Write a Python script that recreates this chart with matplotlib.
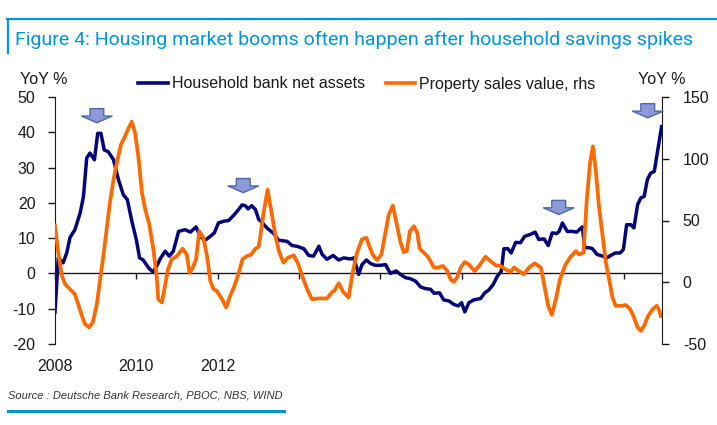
import matplotlib
matplotlib.use("Agg")
import matplotlib.pyplot as plt
from matplotlib.patches import Polygon
from matplotlib.lines import Line2D
from matplotlib import font_manager as fm

# ---------------- data ----------------
hh_dates = [2008.00, 2008.08, 2008.20, 2008.29, 2008.37, 2008.49, 2008.62, 2008.70, 2008.78, 2008.86,
            2008.97, 2009.05, 2009.13, 2009.21, 2009.31, 2009.44, 2009.56, 2009.68, 2009.78, 2009.89,
            2010.00, 2010.08, 2010.17, 2010.30, 2010.41, 2010.50, 2010.59, 2010.71, 2010.81, 2010.91,
            2011.04, 2011.20, 2011.33, 2011.47, 2011.57, 2011.69, 2011.82, 2011.92, 2012.02, 2012.15,
            2012.27, 2012.39, 2012.50, 2012.60, 2012.68, 2012.75, 2012.84, 2012.93, 2013.01, 2013.09,
            2013.21, 2013.38, 2013.50, 2013.71, 2013.83, 2013.95, 2014.12, 2014.24, 2014.36, 2014.49,
            2014.57, 2014.69, 2014.84, 2014.98, 2015.10, 2015.27, 2015.35, 2015.47, 2015.55, 2015.66,
            2015.76, 2015.88, 2016.00, 2016.13, 2016.25, 2016.39, 2016.50, 2016.62, 2016.74, 2016.87,
            2016.99, 2017.11, 2017.24, 2017.32, 2017.46, 2017.56, 2017.69, 2017.81, 2017.92, 2018.00,
            2018.08, 2018.18, 2018.30, 2018.47, 2018.57, 2018.67, 2018.78, 2018.88, 2018.98, 2019.04,
            2019.14, 2019.22, 2019.33, 2019.45, 2019.55, 2019.68, 2019.81, 2019.90, 2020.03, 2020.13,
            2020.23, 2020.34, 2020.40, 2020.48, 2020.60, 2020.73, 2020.83, 2020.97, 2021.03, 2021.14,
            2021.22, 2021.33, 2021.47, 2021.57, 2021.67, 2021.78, 2021.90, 2021.98, 2022.06, 2022.16,
            2022.24, 2022.33, 2022.41, 2022.49, 2022.57, 2022.65, 2022.74, 2022.80, 2022.87, 2022.92]
hh_values = [-11.0, 4.4, 3.0, 5.9, 10.2, 12.4, 17.2, 21.8, 32.7, 34.1,
             32.2, 39.7, 39.7, 35.0, 34.5, 32.2, 26.6, 22.3, 20.9, 14.8,
             9.6, 4.4, 3.8, 1.6, 0.4, 2.0, 4.2, 6.3, 4.9, 6.3,
             11.9, 12.4, 11.7, 13.2, 10.5, 9.4, 10.5, 11.5, 14.3, 14.8,
             15.0, 16.4, 17.9, 19.4, 19.2, 18.3, 19.2, 18.1, 15.3, 14.5,
             12.9, 11.3, 9.4, 9.1, 7.9, 7.7, 7.0, 5.1, 4.9, 7.7,
             5.4, 4.0, 5.1, 3.8, 4.4, 4.1, 4.4, -0.3, 2.5, 3.8,
             2.8, 2.3, 2.3, 2.5, 0.0, 0.7, -0.3, -1.2, -1.5, -2.2,
             -3.8, -4.3, -4.5, -5.6, -5.5, -7.5, -7.8, -8.8, -9.2, -8.3,
             -10.9, -8.3, -7.5, -7.1, -5.5, -4.7, -3.1, -0.8, 0.7, 7.0,
             7.0, 5.8, 8.8, 8.7, 10.5, 11.0, 11.7, 9.6, 9.8, 7.9,
             11.5, 11.3, 11.9, 14.3, 11.9, 11.9, 11.7, 13.2, 7.3, 7.3,
             7.0, 5.4, 4.9, 4.4, 5.1, 5.8, 5.8, 6.8, 13.8, 13.8,
             12.9, 19.5, 21.4, 21.8, 26.6, 28.4, 28.9, 33.1, 37.9, 41.6]

ps_dates = [2008.00, 2008.08, 2008.17, 2008.25, 2008.37, 2008.49, 2008.57, 2008.66, 2008.74, 2008.84,
            2008.93, 2009.03, 2009.11, 2009.19, 2009.27, 2009.35, 2009.44, 2009.52, 2009.62, 2009.72,
            2009.81, 2009.89, 2009.97, 2010.05, 2010.14, 2010.22, 2010.32, 2010.42, 2010.50, 2010.54,
            2010.63, 2010.69, 2010.78, 2010.87, 2011.00, 2011.14, 2011.24, 2011.31, 2011.39, 2011.47,
            2011.55, 2011.65, 2011.74, 2011.82, 2011.90, 2011.98, 2012.11, 2012.21, 2012.31, 2012.43,
            2012.51, 2012.61, 2012.72, 2012.83, 2012.93, 2013.01, 2013.05, 2013.13, 2013.23, 2013.34,
            2013.44, 2013.52, 2013.62, 2013.73, 2013.87, 2013.97, 2014.08, 2014.20, 2014.32, 2014.49,
            2014.69, 2014.82, 2014.87, 2014.98, 2015.09, 2015.22, 2015.33, 2015.43, 2015.55, 2015.66,
            2015.73, 2015.82, 2015.92, 2016.03, 2016.11, 2016.21, 2016.31, 2016.39, 2016.50, 2016.58,
            2016.65, 2016.73, 2016.83, 2016.91, 2016.97, 2017.07, 2017.19, 2017.32, 2017.43, 2017.54,
            2017.65, 2017.73, 2017.81, 2017.89, 2017.98, 2018.08, 2018.18, 2018.28, 2018.32, 2018.43,
            2018.59, 2018.71, 2018.84, 2018.96, 2019.08, 2019.21, 2019.29, 2019.41, 2019.53, 2019.66,
            2019.80, 2019.95, 2020.03, 2020.13, 2020.22, 2020.32, 2020.42, 2020.56, 2020.68, 2020.81,
            2020.89, 2021.00, 2021.08, 2021.16, 2021.23, 2021.30, 2021.38, 2021.47, 2021.55, 2021.63,
            2021.71, 2021.79, 2021.92, 2022.04, 2022.15, 2022.24, 2022.33, 2022.41, 2022.49, 2022.59,
            2022.70, 2022.80, 2022.85, 2022.90]
ps_values = [46.0, 24.0, 5.1, -1.6, -5.6, -9.7, -17.7, -27.0, -33.9, -36.5,
             -32.5, -17.7, 2.4, 21.2, 42.7, 64.3, 83.0, 96.5, 111.3, 118.0,
             124.8, 130.0, 120.7, 101.9, 72.3, 58.9, 46.8, 26.6, 5.1, -13.7,
             -16.4, -5.6, 10.5, 18.5, 21.2, 27.2, 22.6, 7.8, 11.8, 18.5,
             41.4, 36.0, 21.2, 1.0, -5.6, -7.0, -13.7, -20.4, -11.0, -1.6,
             6.5, 18.5, 21.2, 22.6, 27.2, 28.8, 37.3, 56.0, 75.0, 53.5,
             34.7, 24.0, 15.9, 19.9, 21.8, 15.9, 5.1, -5.6, -13.7, -13.1,
             -13.1, -7.8, -7.0, -0.8, -7.8, -12.4, 9.1, 24.0, 34.7, 36.0,
             29.3, 22.0, 18.0, 22.6, 37.3, 54.8, 62.1, 49.5, 32.0, 24.4,
             25.2, 41.4, 45.4, 40.0, 27.2, 24.0, 19.9, 11.9, 11.9, 13.2,
             9.1, 2.4, 0.3, 3.8, 11.9, 16.4, 14.5, 10.5, 9.1, 13.2,
             20.7, 17.2, 13.7, 13.2, 10.5, 8.3, 11.9, 9.1, 6.5, 11.9,
             15.3, 11.9, -1.6, -19.1, -26.4, -13.7, 2.4, 14.5, 20.5, 25.2,
             22.6, 24.0, 67.0, 96.5, 110.0, 91.0, 61.5, 37.3, 15.9, 2.4,
             -12.3, -19.1, -19.1, -18.5, -21.8, -28.5, -36.5, -39.3, -35.2, -27.2,
             -21.8, -19.1, -21.8, -27.2]

# savings-spike markers (date, tip value on left axis)
arrow_dates = [2009.03, 2012.63, 2020.39, 2022.58]
arrow_tips = [42.7, 22.9, 16.7, 44.1]

x_ticks = [2008, 2010, 2012, 2014, 2016, 2018, 2020, 2022]
x_tick_labels = ["2008", "2010", "2012", "", "", "", "", ""]
left_ticks = [-20, -10, 0, 10, 20, 30, 40, 50]
right_ticks = [-50, 0, 50, 100, 150]

title = "Figure 4: Housing market booms often happen after household savings spikes"
source = "Source : Deutsche Bank Research, PBOC, NBS, WIND"
label_hh = "Household bank net assets"
label_ps = "Property sales value, rhs"

# ---------------- style ----------------
def has_font(name):
    try:
        fm.findfont(fm.FontProperties(family=name), fallback_to_default=False)
        return True
    except Exception:
        return False

base_font = "Liberation Sans" if has_font("Liberation Sans") else "DejaVu Sans"
title_font = "Liberation Sans Narrow" if has_font("Liberation Sans Narrow") else "Roboto"
plt.rcParams["font.family"] = [base_font, "DejaVu Sans"]
plt.rcParams["axes.unicode_minus"] = False

NAVY = "#05057A"
ORANGE = "#FF6A00"
BLUE = "#0095D9"
TXT = "#1a1a1a"

W, H = 717, 425
fig = plt.figure(figsize=(W / 100, H / 100), dpi=100)

ax = fig.add_axes([55 / W, 1 - 344 / H, (662 - 55) / W, (344 - 97) / H])
ax2 = ax.twinx()

ax.plot(hh_dates, hh_values, color=NAVY, lw=2.5, solid_joinstyle="round")
ax2.plot(ps_dates, ps_values, color=ORANGE, lw=2.7, solid_joinstyle="round")

ax.set_xlim(2008.0, 2022.93)
ax.set_ylim(-20, 50)
ax2.set_ylim(-50, 150)

for a in (ax, ax2):
    a.spines["top"].set_visible(False)
    a.spines["bottom"].set_visible(False)
ax.spines["right"].set_visible(False)
ax2.spines["left"].set_visible(False)
ax.spines["left"].set_color(TXT)
ax2.spines["right"].set_color(TXT)
ax.spines["bottom"].set_visible(True)
ax.spines["bottom"].set_position(("data", 0))
ax.spines["bottom"].set_color(TXT)
ax.spines["bottom"].set_linewidth(1.0)

ax.set_xticks(x_ticks)
ax.set_xticklabels(x_tick_labels)
ax.set_yticks(left_ticks)
ax2.set_yticks(right_ticks)

ax.tick_params(axis="x", direction="out", length=4, width=1, color=TXT, pad=0, labelsize=11.5,
               labelcolor=TXT)
ax.tick_params(axis="y", direction="out", length=5, width=1, color=TXT, pad=9, labelsize=11.5,
               labelcolor=TXT)
ax2.tick_params(axis="y", direction="out", length=5, width=1, color=TXT, pad=10, labelsize=11.5,
                labelcolor=TXT)

# x labels placed below plot area (axis line sits at zero)
for lab in ax.get_xticklabels():
    lab.set_transform(ax.get_xaxis_transform())
    lab.set_y(-0.093)
    lab.set_verticalalignment("center")

# arrows (block arrows pointing down) drawn in left-axis data coords
head_w, stem_w = 0.38, 0.17
head_h, stem_h = 1.9, 2.1
for d, tip in zip(arrow_dates, arrow_tips):
    pts = [(d, tip), (d - head_w, tip + head_h), (d - stem_w, tip + head_h),
           (d - stem_w, tip + head_h + stem_h), (d + stem_w, tip + head_h + stem_h),
           (d + stem_w, tip + head_h), (d + head_w, tip + head_h)]
    ax2.add_patch(Polygon(pts, closed=True, transform=ax.transData, facecolor="#8E9AD8",
                          edgecolor="#4D68AE", lw=1.0, zorder=5, clip_on=False))

# axis titles
fig.text(20 / W, 1 - 79 / H, "YoY %", fontsize=11.5, color=TXT, va="center", ha="left")
fig.text(685 / W, 1 - 79 / H, "YoY %", fontsize=11.5, color=TXT, va="center", ha="right")

# legend
handles = [Line2D([], [], color=NAVY, lw=2.6), Line2D([], [], color=ORANGE, lw=2.6)]
fig.legend(handles, [label_hh, label_ps], loc="center", bbox_to_anchor=(367 / W, 1 - 84 / H),
           ncol=2, frameon=False, fontsize=11.5, handlelength=1.85, handletextpad=0.25,
           columnspacing=1.3, borderaxespad=0, borderpad=0, labelcolor=TXT)

# title block
fig.add_artist(Line2D([7 / W, 1.0], [1 - 19 / H, 1 - 19 / H], color=BLUE, lw=1.6))
fig.add_artist(Line2D([8 / W, 8 / W], [1 - 19 / H, 1 - 53 / H], color=BLUE, lw=1.6))
fig.text(15 / W, 1 - 40 / H, title, fontsize=14, color=BLUE, va="center", ha="left",
         family=[title_font, "DejaVu Sans"])

# source
fig.text(8 / W, 1 - 395 / H, source, fontsize=8, style="italic", color="#333333",
         va="center", ha="left")
fig.add_artist(Line2D([8 / W, 284 / W], [1 - 411 / H, 1 - 411 / H], color=BLUE, lw=2.2))

fig.savefig("out.png", dpi=100)
